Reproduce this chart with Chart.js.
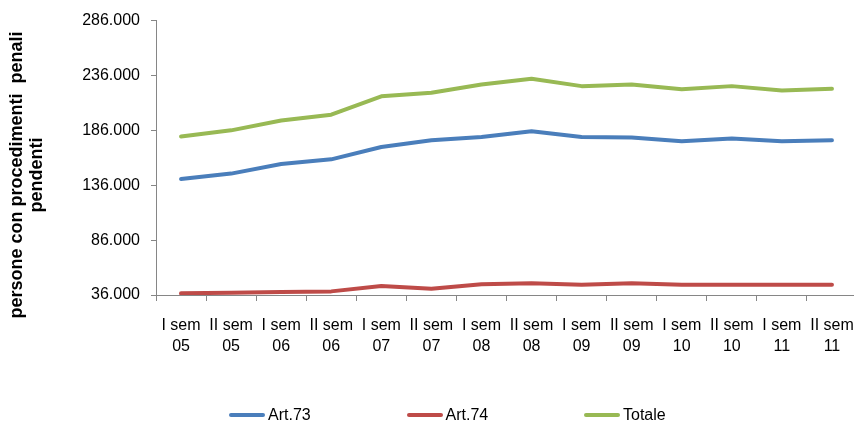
<!DOCTYPE html>
<html>
<head>
<meta charset="utf-8">
<script src="https://cdn.jsdelivr.net/npm/chart.js@4/dist/chart.umd.min.js"></script>
<style>
    html, body { margin: 0; padding: 0; overflow: hidden; background: #fff; }
    #wrap { position: relative; width: 894px; height: 423px; }
    #legend { position: absolute; left: 229px; top: 406px; display: flex; font: 16px "Liberation Sans", Arial, sans-serif; color: #000; }
    .item { width: 177.5px; display: flex; align-items: center; }
    .swatch { width: 36px; height: 4px; border-radius: 2px; margin-right: 3px; }
</style>
</head>
<body>
<div id="wrap">
    <canvas id="chartContainer"></canvas>
    <div id="legend"></div>
</div>
<script>
// Semester labels and values
const semesters = [
    ['I sem', '05'], ['II sem', '05'], ['I sem', '06'], ['II sem', '06'],
    ['I sem', '07'], ['II sem', '07'], ['I sem', '08'], ['II sem', '08'],
    ['I sem', '09'], ['II sem', '09'], ['I sem', '10'], ['II sem', '10'],
    ['I sem', '11'], ['II sem', '11']
];
const art73 = [141700, 146600, 155400, 159600, 170800, 176900, 179900, 185100, 179900, 179400, 176000, 178500, 176000, 176900];
const art74 = [37500, 38100, 38700, 39300, 44200, 41700, 45700, 46600, 45400, 46600, 45400, 45400, 45400, 45400];
const totale = [180500, 186000, 195000, 200300, 217000, 220300, 227800, 233000, 226300, 227800, 223500, 226300, 222400, 223900];
const yTitle = ['persone con procedimenti  penali', 'pendenti'];

const FONT = '"Liberation Sans", Arial, sans-serif';
const AXIS_GRAY = '#868686';

// rotated two-line axis title, centred on the whole left block
const yTitlePlugin = {
    id: 'yTitle',
    afterDraw(chart) {
        const ctx = chart.ctx;
        ctx.save();
        ctx.translate(0, 175);
        ctx.rotate(-Math.PI / 2);
        ctx.font = 'bold 18px ' + FONT;
        ctx.fillStyle = '#000';
        ctx.textAlign = 'center';
        ctx.textBaseline = 'alphabetic';
        ctx.fillText(yTitle[0], 0, 22);
        ctx.fillText(yTitle[1], 0, 42);
        ctx.restore();
    }
};

function series(label, data, color) {
    return {
        label: label,
        data: data,
        borderColor: color,
        backgroundColor: color,
        borderWidth: 4,
        pointRadius: 0,
        tension: 0,
        borderCapStyle: 'round',
        borderJoinStyle: 'round'
    };
}

const ctx = document.getElementById('chartContainer').getContext('2d');
const chart = new Chart(ctx, {
    type: 'line',
    data: {
        labels: semesters,
        datasets: [
            series('Art.73', art73, '#4A7EBB'),
            series('Art.74', art74, '#BE4B48'),
            series('Totale', totale, '#98B954')
        ]
    },
    options: {
        responsive: true,
        maintainAspectRatio: false,
        animation: false,
        layout: { padding: { top: 20, right: 37, bottom: 0, left: 0 } },
        plugins: {
            legend: { display: false },
            tooltip: { enabled: false }
        },
        scales: {
            x: {
                offset: true,
                afterFit: function (scale) { scale.height = 128; },
                grid: {
                    offset: true,
                    drawOnChartArea: false,
                    drawTicks: true,
                    tickLength: 6,
                    color: AXIS_GRAY
                },
                border: { color: AXIS_GRAY, width: 1 },
                ticks: {
                    maxRotation: 0,
                    autoSkip: false,
                    padding: 14,
                    color: '#000',
                    font: { family: FONT, size: 16, lineHeight: 1.3125 }
                }
            },
            y: {
                min: 36000,
                max: 286000,
                afterFit: function (scale) { scale.width = 156; },
                grid: {
                    drawOnChartArea: false,
                    drawTicks: true,
                    tickLength: 5,
                    color: AXIS_GRAY
                },
                border: { color: AXIS_GRAY, width: 1 },
                ticks: {
                    stepSize: 50000,
                    padding: 11,
                    color: '#000',
                    font: { family: FONT, size: 16 },
                    callback: function (value) {
                        return value.toString().replace(/\B(?=(\d{3})+(?!\d))/g, '.');
                    }
                }
            }
        }
    },
    plugins: [yTitlePlugin]
});

// legend built from the datasets
const legendDiv = document.getElementById('legend');
chart.data.datasets.forEach(function (ds) {
    const item = document.createElement('div');
    item.className = 'item';
    const swatch = document.createElement('span');
    swatch.className = 'swatch';
    swatch.style.background = ds.borderColor;
    const text = document.createElement('span');
    text.textContent = ds.label;
    item.appendChild(swatch);
    item.appendChild(text);
    legendDiv.appendChild(item);
});
</script>
</body>
</html>
